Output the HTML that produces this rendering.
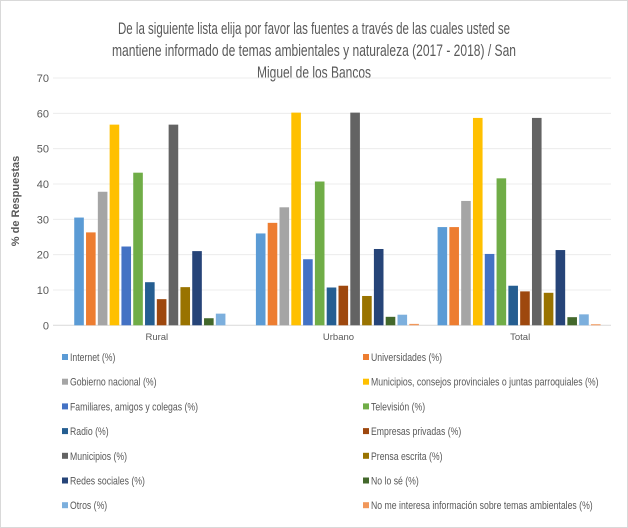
<!DOCTYPE html>
<html><head><meta charset="utf-8"><style>
body{margin:0;background:#fff;}
svg{display:block;font-family:"Liberation Sans",sans-serif;}
</style></head><body>
<svg id="chart" width="628" height="528">
<rect x="0.5" y="0.5" width="627" height="527" fill="#fff" stroke="#d9d9d9"/>
<g fill="#595959" font-size="16.5" text-anchor="middle">
<text x="314" y="34" textLength="392" lengthAdjust="spacingAndGlyphs">De la siguiente lista elija por favor las fuentes a través de las cuales usted se</text>
<text x="314" y="56" textLength="404" lengthAdjust="spacingAndGlyphs">mantiene informado de temas ambientales y naturaleza (2017 - 2018) / San</text>
<text x="314" y="78" textLength="114" lengthAdjust="spacingAndGlyphs">Miguel de los Bancos</text>
</g>
<text transform="translate(19,201) rotate(-90)" text-anchor="middle" font-size="11" font-weight="bold" fill="#595959">% de Respuestas</text>
<g id="grid"></g><g id="bars"></g><g id="xlabels"></g><g id="legend"></g>
</svg>
<script>
const categories=["Rural","Urbano","Total"];
const seriesNames=["Internet (%)","Universidades (%)","Gobierno nacional (%)","Municipios, consejos provinciales o juntas parroquiales (%)","Familiares, amigos y colegas (%)","Televisión (%)","Radio (%)","Empresas privadas (%)","Municipios (%)","Prensa escrita (%)","Redes sociales (%)","No lo sé (%)","Otros (%)","No me interesa información sobre temas ambientales (%)"];
const colors=["#5b9bd5","#ed7d31","#a5a5a5","#ffc000","#4472c4","#70ad47","#255e91","#9e480e","#636363","#997300","#264478","#43682b","#7cafdd","#f1975a"];
const rural=[30.5,26.3,37.8,56.8,22.3,43.2,12.2,7.4,56.8,10.8,21.0,2.0,3.3,0];
const urbano=[26.0,29.0,33.4,60.2,18.7,40.7,10.7,11.2,60.2,8.3,21.6,2.4,3.0,0.4];
const total=[27.8,27.8,35.2,58.7,20.2,41.6,11.2,9.6,58.7,9.2,21.3,2.3,3.1,0.3];
const yTicks=[0,10,20,30,40,50,60,70];
const values=[rural,urbano,total];
const NS="http://www.w3.org/2000/svg";
const x0=66,x1=611,y0=325.3,yMax=70,yTop=78;
function y(v){return y0-(v/yMax)*(y0-yTop);}
const gw=(x1-x0)/categories.length,pitch=11.8,bw=9.6;
function bx(g,s){return x0+g*gw+(gw-pitch*14)/2+s*pitch;}
function mk(tag,attrs,parent){const e=document.createElementNS(NS,tag);for(const k in attrs)e.setAttribute(k,attrs[k]);parent.appendChild(e);return e;}
const grid=document.getElementById('grid');
yTicks.forEach(t=>{
 const l=mk('line',{x1:53,x2:x1,y1:y(t),y2:y(t),stroke:t===0?'#d9d9d9':'#ececec','stroke-width':1},grid);
 
 
 const tx=mk('text',{x:49,y:y(t)+4,'text-anchor':'end','font-size':11,fill:'#595959'},grid);
 tx.textContent=t;
 
 
});
const bars=document.getElementById('bars');
values.forEach((arr,g)=>{
 arr.forEach((v,s)=>{
  const r=mk('rect',{x:bx(g,s),y:y(v),width:bw,height:Math.max(0,y0-y(v)),fill:colors[s]},bars);
  
  
 });
 const t=mk('text',{x:x0+g*gw+gw/2,y:340,'text-anchor':'middle','font-size':9.5,fill:'#595959'},document.getElementById('xlabels'));
 t.textContent=categories[g];
 
 
});
const leg=document.getElementById('legend');
seriesNames.forEach((n,i)=>{
 const col=i%2,row=Math.floor(i/2);
 const lx=col===0?62:363,ly=357+row*24.7;
 const gEl=mk('g',{},leg);
 
 
 mk('rect',{x:lx,y:ly-3,width:6,height:6,fill:colors[i]},gEl);
 const t=mk('text',{x:lx+8,y:ly+4,'font-size':11,fill:'#595959'},gEl);
 t.textContent=n;
 const w=t.getComputedTextLength();
 t.setAttribute('textLength',(w*0.79).toFixed(1));
 t.setAttribute('lengthAdjust','spacingAndGlyphs');
});
</script>
</body></html>
